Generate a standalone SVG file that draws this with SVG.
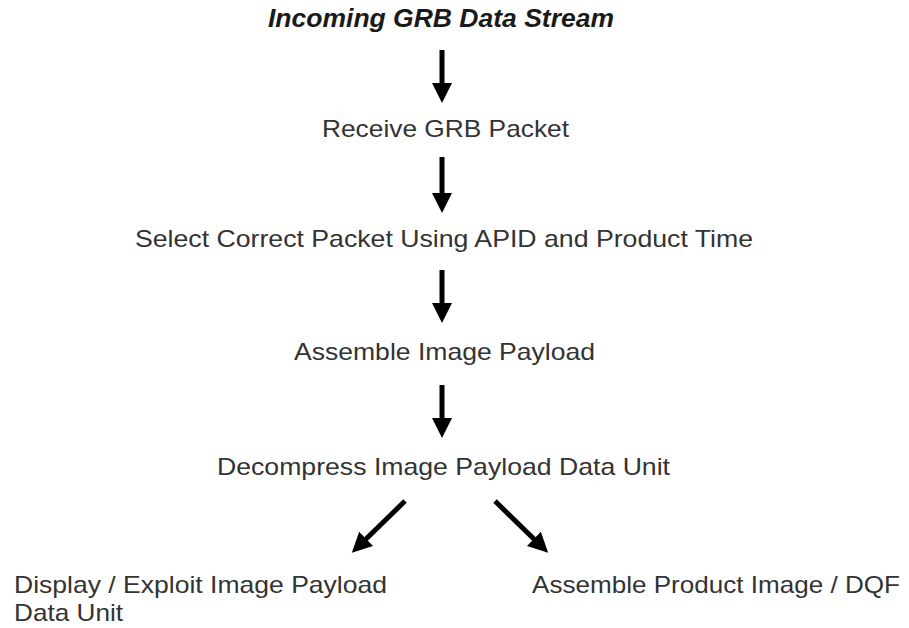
<svg xmlns="http://www.w3.org/2000/svg" width="909" height="628" viewBox="0 0 909 628">
<style>
.t{font-family:"Liberation Sans",Arial,sans-serif;font-size:24px;fill:#333}
.h{font-family:"Liberation Sans",Arial,sans-serif;font-size:25px;font-weight:bold;font-style:italic;fill:#1a1a1a}
.c{stroke:#000;stroke-width:5;fill:none;marker-end:url(#ah)}
</style>
<defs>
<marker id="ah" viewBox="0 0 20 20" refX="3" refY="10" markerWidth="20" markerHeight="20" markerUnits="userSpaceOnUse" orient="auto">
<path d="M0,0 L20,10 L0,20 z" fill="#000"/>
</marker>
</defs>
<rect width="909" height="628" fill="#fff"/>
<g id="n0"><text class="h" x="268" y="27" textLength="346" lengthAdjust="spacingAndGlyphs">Incoming GRB Data Stream</text></g>
<g id="n1"><text class="t" x="322" y="137" textLength="247" lengthAdjust="spacingAndGlyphs">Receive GRB Packet</text></g>
<g id="n2"><text class="t" x="135" y="247" textLength="618" lengthAdjust="spacingAndGlyphs">Select Correct Packet Using APID and Product Time</text></g>
<g id="n3"><text class="t" x="294" y="360" textLength="301" lengthAdjust="spacingAndGlyphs">Assemble Image Payload</text></g>
<g id="n4"><text class="t" x="217" y="475" textLength="453" lengthAdjust="spacingAndGlyphs">Decompress Image Payload Data Unit</text></g>
<g id="n5"><text class="t" x="14" y="593" textLength="373" lengthAdjust="spacingAndGlyphs">Display / Exploit Image Payload</text><text class="t" x="14" y="621" textLength="109" lengthAdjust="spacingAndGlyphs">Data Unit</text></g>
<g id="n6"><text class="t" x="532" y="593" textLength="368" lengthAdjust="spacingAndGlyphs">Assemble Product Image / DQF</text></g>
<g id="connectors">
<line class="c" x1="442" y1="50" x2="442" y2="86"/>
<line class="c" x1="442" y1="157" x2="442" y2="196"/>
<line class="c" x1="442" y1="270" x2="442" y2="306"/>
<line class="c" x1="442" y1="385" x2="442" y2="421"/>
<line class="c" x1="405" y1="501" x2="364" y2="541"/>
<line class="c" x1="495" y1="501" x2="536" y2="541"/>
</g>
</svg>
